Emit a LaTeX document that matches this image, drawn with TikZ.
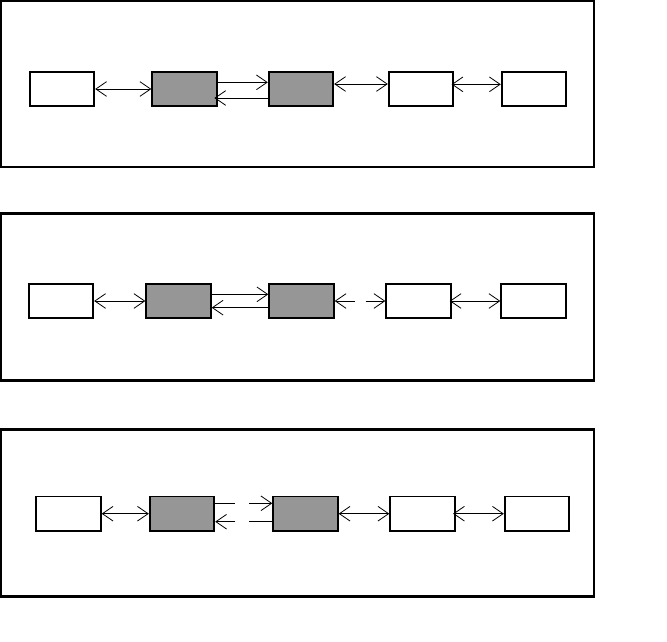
\documentclass[tikz,border=0pt]{standalone}
\usetikzlibrary{arrows.meta}
\definecolor{gris}{HTML}{969696}
\definecolor{trazo}{HTML}{000000}

\begin{document}
\begin{tikzpicture}[x=0.75pt, y=-0.75pt,
		caja/.style={draw=trazo, line width=1.3pt, minimum width=48.5pt, minimum height=26pt, inner sep=0pt},
		marco/.style={draw=trazo, line width=1.8pt},
		flecha/.style={trazo, line width=0.6pt},
		>={Straight Barb[length=8pt, width=11pt]}]
	\useasboundingbox (0,0) rectangle (667,642);
	% marcos
	\foreach \yt/\yb in {1.2/167, 213.5/380.5, 429.5/596.5}
		\draw[marco] (1.2,\yt) rectangle (594,\yb);

	% primera fila
	\foreach \n/\x/\f in {a/62/white, b/184.5/gris, c/301/gris, d/421/white, e/534/white}
		\node[caja, fill=\f] (\n1) at (\x,89) {};
	\draw[flecha, <->] (a1.east) -- (b1.west);
	\draw[flecha, ->] ([yshift=5pt]b1.east) -- ([yshift=5pt]c1.west);
	\draw[flecha, ->, shorten >=-2.5pt] ([yshift=-6.75pt]c1.west) -- ([yshift=-6.75pt]b1.east);
	\draw[flecha, <->] ([yshift=3.75pt]c1.east) -- ([yshift=3.75pt]d1.west);
	\draw[flecha, <->, shorten <=-2pt] ([yshift=3.5pt]d1.east) -- ([yshift=3.5pt]e1.west);

	% segunda fila
	\foreach \n/\x/\f in {a/61/white, b/178.5/gris, c/301.5/gris, d/418.5/white, e/533.5/white}
		\node[caja, fill=\f] (\n2) at (\x,301) {};
	\draw[flecha, <->] (a2.east) -- (b2.west);
	\draw[flecha, ->] ([yshift=5pt]b2.east) -- ([yshift=5pt]c2.west);
	\draw[flecha, ->] ([yshift=-5pt]c2.west) -- ([yshift=-5pt]b2.east);
	\coordinate (h2) at (355,301);
	\coordinate (k2) at (365.7,301);
	\draw[flecha, <-] (c2.east) -- (h2);
	\draw[flecha, ->] (k2) -- (d2.west);
	\draw[flecha, <->, shorten <=-1.5pt] (d2.east) -- (e2.west);

	% tercera fila
	\foreach \n/\x/\f in {a/68.5/white, b/182/gris, c/305.5/gris, d/422.5/white, e/537/white}
		\node[caja, fill=\f] (\n3) at (\x,513.7) {};
	\draw[flecha, <->] (a3.east) -- (b3.west);
	\coordinate (h3) at (235,503.3);
	\coordinate (k3) at (249.3,503.3);
	\coordinate (m3) at (249.3,521.7);
	\coordinate (n3) at (235.3,521.7);
	\draw[flecha] ([yshift=7.8pt]b3.east) -- (h3);
	\draw[flecha, ->] (k3) -- ([yshift=7.8pt]c3.west);
	\draw[flecha] ([yshift=-6pt]c3.west) -- (m3);
	\draw[flecha, ->] (n3) -- ([yshift=-6pt]b3.east);
	\draw[flecha, <->] (c3.east) -- (d3.west);
	\draw[flecha, <->, shorten <=-2pt] (d3.east) -- (e3.west);
\end{tikzpicture}
\end{document}
